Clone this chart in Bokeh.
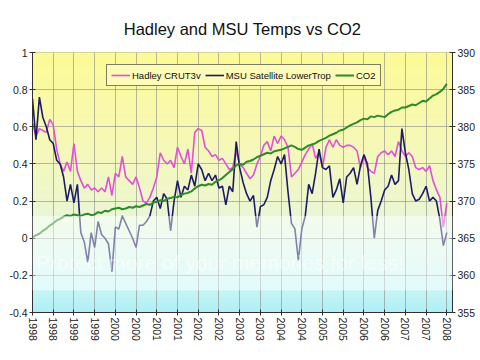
import numpy as np
from bokeh.plotting import figure
from bokeh.models import Range1d, LinearAxis, FixedTicker, Legend, LegendItem, Label
from bokeh.embed import file_html
from bokeh.resources import INLINE

# ---------------- data ----------------
tick_labels = ["1998", "1998", "1999", "1999", "2000", "2000", "2001", "2001",
               "2002", "2002", "2003", "2003", "2004", "2004", "2005", "2005",
               "2006", "2006", "2007", "2007", "2008"]

temp_ticks = [-0.4, -0.2, 0.0, 0.2, 0.4, 0.6, 0.8, 1.0]
temp_tick_labels = ["-0.4", "-0.2", "0", "0.2", "0.4", "0.6", "0.8", "1"]
co2_ticks = [355, 360, 365, 370, 375, 380, 385, 390]

hadley = [0.62, 0.55, 0.59, 0.58, 0.57, 0.64, 0.61, 0.48, 0.40, 0.36, 0.41, 0.36,
          0.51, 0.36, 0.31, 0.27, 0.29, 0.26, 0.27, 0.25, 0.27, 0.25, 0.33, 0.23,
          0.35, 0.33, 0.44, 0.33, 0.31, 0.29, 0.33, 0.27, 0.20, 0.19, 0.22, 0.27,
          0.33, 0.46, 0.42, 0.40, 0.42, 0.38, 0.49, 0.44, 0.40, 0.48, 0.35, 0.57,
          0.59, 0.58, 0.49, 0.47, 0.44, 0.45, 0.42, 0.43, 0.40, 0.37, 0.38, 0.47,
          0.40, 0.38, 0.35, 0.32, 0.34, 0.40, 0.44, 0.50, 0.52, 0.47, 0.55, 0.51,
          0.55, 0.53, 0.49, 0.33, 0.35, 0.37, 0.41, 0.45, 0.48, 0.51, 0.43, 0.46,
          0.38, 0.49, 0.53, 0.49, 0.53, 0.50, 0.49, 0.50, 0.50, 0.49, 0.47, 0.38,
          0.44, 0.38, 0.36, 0.35, 0.44, 0.46, 0.47, 0.45, 0.47, 0.44, 0.52, 0.47,
          0.44, 0.46, 0.44, 0.38, 0.37, 0.38, 0.36, 0.39, 0.31, 0.26, 0.22, 0.06, 0.19]

msu = [0.75, 0.53, 0.76, 0.65, 0.60, 0.53, 0.51, 0.42, 0.40, 0.33, 0.20, 0.29,
       0.19, 0.29, 0.03, -0.02, -0.13, 0.03, -0.05, 0.09, 0.02, 0.00, -0.03, -0.18,
       0.06, 0.05, 0.12, 0.08, 0.04, 0.00, -0.05, 0.07, 0.07, 0.09, 0.12, 0.20,
       0.22, 0.16, 0.24, 0.21, 0.04, 0.20, 0.31, 0.22, 0.28, 0.26, 0.34, 0.28,
       0.40, 0.37, 0.31, 0.35, 0.31, 0.34, 0.27, 0.28, 0.18, 0.28, 0.25, 0.52,
       0.38, 0.30, 0.24, 0.20, 0.23, 0.06, 0.17, 0.18, 0.22, 0.31, 0.37, 0.44,
       0.40, 0.45, 0.25, 0.08, 0.05, -0.12, 0.05, 0.12, 0.29, 0.24, 0.35, 0.48,
       0.38, 0.37, 0.39, 0.22, 0.26, 0.32, 0.19, 0.33, 0.35, 0.38, 0.29, 0.39,
       0.45, 0.40, 0.22, 0.00, 0.15, 0.20, 0.26, 0.28, 0.34, 0.29, 0.31, 0.59,
       0.46, 0.37, 0.24, 0.20, 0.21, 0.24, 0.28, 0.20, 0.22, 0.20, 0.10, -0.04, 0.03]

co2 = [365.1, 365.4, 365.6, 366.0, 366.3, 366.7, 367.0, 367.4, 367.6, 367.9, 368.1, 368.0,
       368.2, 368.1, 368.0, 368.2, 368.3, 368.1, 368.2, 368.5, 368.4, 368.7, 368.6, 368.9,
       369.0, 369.1, 368.9, 369.0, 369.2, 369.1, 369.3, 369.2, 369.4, 369.6, 369.5, 369.8,
       369.9, 370.1, 370.0, 370.3, 370.4, 370.6, 370.5, 370.8, 371.0, 371.1, 371.3, 371.7,
       372.0, 372.2, 372.1, 372.3, 372.2, 372.6, 372.8, 373.1, 373.5, 373.9, 374.3, 374.8,
       375.0, 374.9, 375.3, 375.4, 375.6, 375.9, 376.1, 376.3, 376.5, 376.4, 376.7, 376.8,
       376.9, 377.1, 377.3, 377.5, 377.3, 377.0, 376.9, 377.2, 377.5, 377.6, 377.8, 378.1,
       378.3, 378.5, 378.8, 379.0, 379.2, 379.5, 379.6, 379.9, 380.2, 380.4, 380.6, 380.9,
       381.1, 381.0, 381.4, 381.3, 381.5, 381.4, 381.3, 381.7, 382.0, 382.2, 382.3, 382.6,
       382.6, 382.8, 383.0, 382.9, 383.2, 383.5, 383.4, 383.8, 384.2, 384.4, 384.7, 385.1, 385.8]

months = list(range(len(hadley)))
month_ticks = list(range(0, len(hadley), 6))

# ---------------- figure ----------------
X_END = 121.65
FONT = "Liberation Sans"

p = figure(frame_width=420, frame_height=260, output_backend="svg", toolbar_location=None,
           x_range=Range1d(0, X_END), y_range=Range1d(-0.4, 1.0),
           min_border_left=32, min_border_right=27, min_border_top=52,
           min_border_bottom=40, title="Hadley and MSU Temps vs CO2")
p.title.text_font = FONT
p.title.text_font_size = "16.5px"
p.title.text_font_style = "normal"
p.title.text_color = "#111111"
p.title.align = "center"
p.title.standoff = 30
p.background_fill_color = "white"
p.border_fill_color = "white"
p.outline_line_color = "#9a9a9a"

# gradient background (yellow -> pale -> cyan)
stops_v = [-0.4, -0.25, 0.0, 0.2, 0.5, 1.0]
stops_c = np.array([[172, 238, 246], [205, 247, 246], [226, 248, 232],
                    [238, 247, 205], [246, 248, 184], [252, 250, 150]], float)
edges = np.linspace(-0.4, 1.0, 71)
mids = (edges[:-1] + edges[1:]) / 2
cols = []
for v in mids:
    rgb = [np.interp(v, stops_v, stops_c[:, k]) for k in range(3)]
    cols.append("#%02x%02x%02x" % tuple(int(round(c)) for c in rgb))
bg = p.quad(left=0, right=X_END, bottom=edges[:-1], top=edges[1:],
            fill_color=cols, line_color=cols, line_width=1)
bg.level = "image"

# grid
p.xgrid.ticker = FixedTicker(ticks=month_ticks)
p.ygrid.ticker = FixedTicker(ticks=temp_ticks)
for g in (p.xgrid, p.ygrid):
    g.grid_line_color = "#8a8a8a"
    g.grid_line_alpha = 0.6
    g.grid_line_width = 1

# series
r_h = p.line(months, hadley, line_color="#e050d8", line_width=1.6)
r_m = p.line(months, msu, line_color="#1c1c66", line_width=1.6)
p.extra_y_ranges = {"co2": Range1d(355, 390)}
r_c = p.line(months, co2, line_color="#2f8a2a", line_width=2, y_range_name="co2")

# watermark band and text
wm = p.quad(left=0, right=X_END, bottom=-0.28, top=0.12,
            fill_color="white", fill_alpha=0.45, line_color=None)
wm.level = "overlay"
p.add_layout(Label(x=1, y=-0.19, text="Protect more of your memories for less!",
                   text_font=FONT, text_font_size="21px", text_color="white",
                   text_alpha=0.55, level="overlay"))

# axes
def style_axis(ax):
    ax.axis_line_color = "#303030"
    ax.axis_line_width = 1
    ax.major_tick_line_color = "#303030"
    ax.major_tick_in = 3
    ax.major_tick_out = 3
    ax.minor_tick_line_color = None
    ax.major_label_text_font = FONT
    ax.major_label_text_font_size = "10.5px"
    ax.major_label_text_color = "#222222"
    ax.major_label_standoff = 2

p.xaxis.ticker = FixedTicker(ticks=month_ticks)
p.xaxis.major_label_overrides = {t: lab for t, lab in zip(month_ticks, tick_labels)}
p.xaxis.major_label_orientation = "vertical"
style_axis(p.xaxis[0])

p.yaxis.ticker = FixedTicker(ticks=temp_ticks)
p.yaxis.major_label_overrides = {t: lab for t, lab in zip(temp_ticks, temp_tick_labels)}
style_axis(p.yaxis[0])

ax_r = LinearAxis(y_range_name="co2", ticker=FixedTicker(ticks=co2_ticks))
style_axis(ax_r)
p.add_layout(ax_r, "right")

# legend
legend = Legend(items=[LegendItem(label="Hadley CRUT3v", renderers=[r_h]),
                       LegendItem(label="MSU Satellite LowerTrop", renderers=[r_m]),
                       LegendItem(label="CO2", renderers=[r_c])],
                orientation="horizontal", location=(74, 226),
                border_line_color="black", border_line_width=1,
                background_fill_color="#fdfbb8", background_fill_alpha=1,
                label_text_font=FONT, label_text_font_size="9.5px",
                label_text_color="#111111",
                glyph_width=19, glyph_height=12, label_standoff=2,
                spacing=4, padding=4, margin=0, label_height=12)
p.add_layout(legend, "center")

open("out.html", "w").write(file_html(p, INLINE))
